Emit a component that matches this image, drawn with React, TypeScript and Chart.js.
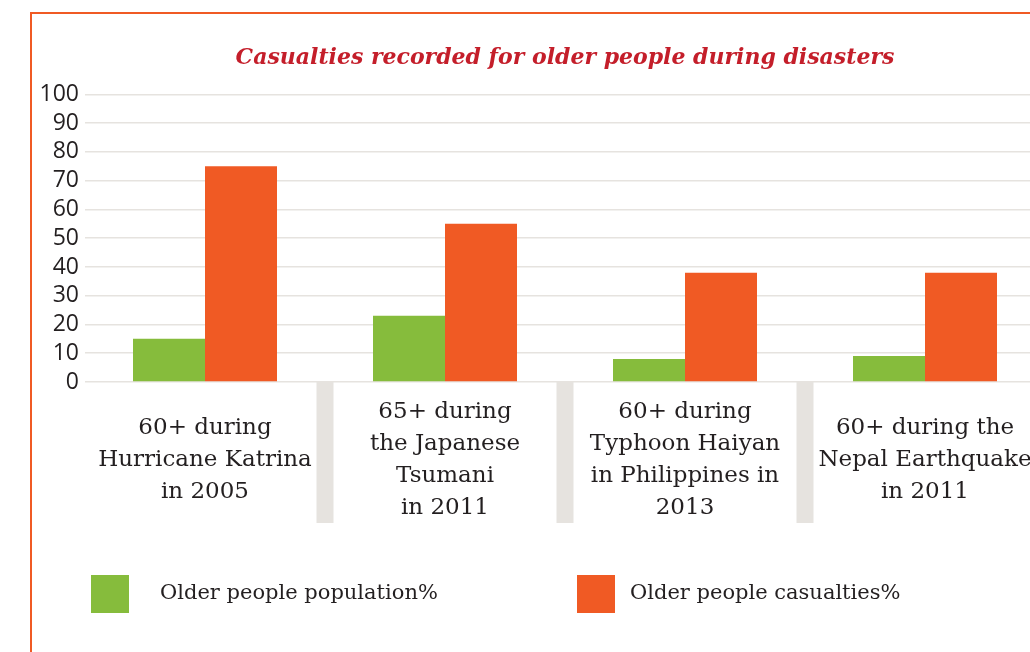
import React, { useEffect, useRef } from "react";
import { Chart, registerables } from "chart.js";

Chart.register(...registerables);

const titleText = "Casualties recorded for older people during disasters";
const categories: string[][] = [
  ["60+ during", "Hurricane Katrina", "in 2005"],
  ["65+ during", "the Japanese", "Tsumani", "in 2011"],
  ["60+ during", "Typhoon Haiyan", "in Philippines in", "2013"],
  ["60+ during the", "Nepal Earthquake", "in 2011"],
];
const seriesNames = ["Older people population%", "Older people casualties%"];
const populationPct = [15, 23, 8, 9];
const casualtiesPct = [75, 55, 38, 38];
const yMin = 0;
const yMax = 100;
const yStep = 10;

const GREEN = "#86bc3c";
const ORANGE = "#f05a24";
const GRID = "#e6e3df";
const TEXT = "#231f20";
const SERIF = "'DejaVu Serif', serif";

const separatorPlugin = {
  id: "separators",
  beforeDatasetsDraw(chart: any) {
    const x = chart.scales.x;
    const ctx = chart.ctx;
    const bottom = chart.chartArea.bottom;
    ctx.save();
    ctx.fillStyle = GRID;
    for (let i = 1; i < chart.data.labels.length; i++) {
      const px = (x.getPixelForTick(i - 1) + x.getPixelForTick(i)) / 2;
      ctx.fillRect(px - 8.5, bottom, 17, 141);
    }
    ctx.restore();
  },
};

const legendPlugin = {
  id: "customLegend",
  afterDraw(chart: any) {
    const ctx = chart.ctx;
    const items = [
      { x: 59, textX: 128 },
      { x: 545, textX: 598 },
    ];
    ctx.save();
    chart.data.datasets.forEach((ds: any, i: number) => {
      const it = items[i];
      const y = 561;
      ctx.fillStyle = ds.backgroundColor;
      ctx.fillRect(it.x, y, 38, 38);
      ctx.fillStyle = TEXT;
      ctx.font = `21px ${SERIF}`;
      ctx.textAlign = "left";
      ctx.textBaseline = "middle";
      ctx.fillText(ds.label, it.textX, y + 19);
    });
    ctx.restore();
  },
};

export default function App() {
  const ref = useRef<HTMLCanvasElement | null>(null);

  useEffect(() => {
    if (!ref.current) return;
    const chart = new Chart(ref.current, {
      type: "bar",
      data: {
        labels: categories,
        datasets: [
          {
            label: seriesNames[0],
            data: populationPct,
            backgroundColor: GREEN,
            categoryPercentage: 0.6,
            barPercentage: 1.0,
          },
          {
            label: seriesNames[1],
            data: casualtiesPct,
            backgroundColor: ORANGE,
            categoryPercentage: 0.6,
            barPercentage: 1.0,
          },
        ],
      },
      options: {
        animation: false,
        responsive: false,
        maintainAspectRatio: false,
        layout: { padding: { left: 0, right: 47, top: 0, bottom: 0 } },
        plugins: {
          legend: { display: false },
          tooltip: { enabled: false },
          title: {
            display: true,
            fullSize: false,
            text: titleText,
            color: "#c41e2a",
            font: { family: SERIF, size: 22, weight: "bold", style: "italic" },
            padding: { top: 31, bottom: 23 },
          },
        },
        scales: {
          x: {
            offset: true,
            grid: { display: false, drawTicks: false },
            border: { display: false },
            ticks: {
              color: TEXT,
              font: { family: SERIF, size: 23, lineHeight: 32 / 23 },
              padding: 30,
              crossAlign: "center",
              maxRotation: 0,
              autoSkip: false,
            },
            afterFit: (s: any) => {
              s.height = 270;
            },
          },
          y: {
            min: yMin,
            max: yMax,
            grid: { color: GRID, lineWidth: 1.5, drawTicks: false },
            border: { display: false },
            ticks: {
              stepSize: yStep,
              autoSkip: false,
              color: TEXT,
              font: { family: "'Open Sans', sans-serif", size: 23 },
              padding: 6,
            },
            afterFit: (s: any) => {
              s.width = 53;
            },
          },
        },
      },
      plugins: [separatorPlugin, legendPlugin],
    } as any);
    return () => chart.destroy();
  }, []);

  return (
    <div
      style={{
        position: "absolute",
        left: 0,
        top: 0,
        width: 1030,
        height: 652,
        overflow: "hidden",
        background: "#fff",
      }}
    >
      <div
        style={{
          position: "absolute",
          left: 30,
          top: 12,
          width: 1200,
          height: 800,
          borderLeft: `2px solid ${ORANGE}`,
          borderTop: `2px solid ${ORANGE}`,
        }}
      />
      <canvas
        ref={ref}
        width={1060}
        height={638}
        style={{ position: "absolute", left: 32, top: 14, width: 1060, height: 638 }}
      />
    </div>
  );
}
